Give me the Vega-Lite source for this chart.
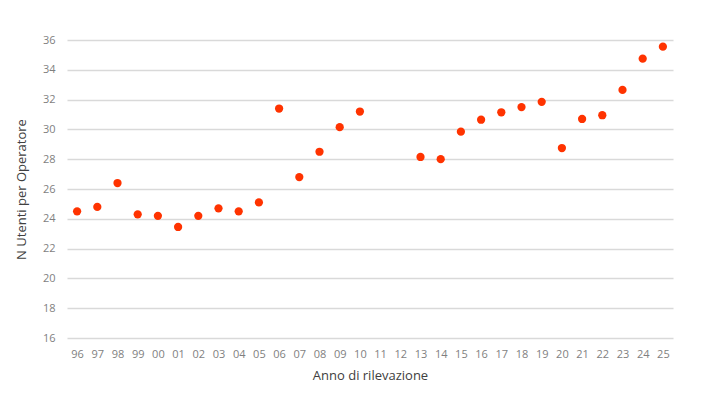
{
  "$schema": "https://vega.github.io/schema/vega-lite/v6.json",
  "autosize": "none",
  "padding": {"left": 67, "top": 40, "right": 33, "bottom": 67},
  "width": 606,
  "height": 298,
  "background": "white",
  "config": {
    "view": {"stroke": "transparent"},
    "font": "Open Sans"
  },
  "data": {
    "values": [
      {"anno": "96", "utenti": 24.5},
      {"anno": "97", "utenti": 24.8},
      {"anno": "98", "utenti": 26.4},
      {"anno": "99", "utenti": 24.3},
      {"anno": "00", "utenti": 24.2},
      {"anno": "01", "utenti": 23.45},
      {"anno": "02", "utenti": 24.2},
      {"anno": "03", "utenti": 24.7},
      {"anno": "04", "utenti": 24.5},
      {"anno": "05", "utenti": 25.1},
      {"anno": "06", "utenti": 31.4},
      {"anno": "07", "utenti": 26.8},
      {"anno": "08", "utenti": 28.5},
      {"anno": "09", "utenti": 30.15},
      {"anno": "10", "utenti": 31.2},
      {"anno": "13", "utenti": 28.15},
      {"anno": "14", "utenti": 28.0},
      {"anno": "15", "utenti": 29.85},
      {"anno": "16", "utenti": 30.65},
      {"anno": "17", "utenti": 31.15},
      {"anno": "18", "utenti": 31.5},
      {"anno": "19", "utenti": 31.85},
      {"anno": "20", "utenti": 28.75},
      {"anno": "21", "utenti": 30.7},
      {"anno": "22", "utenti": 30.95},
      {"anno": "23", "utenti": 32.65},
      {"anno": "24", "utenti": 34.75},
      {"anno": "25", "utenti": 35.55}
    ]
  },
  "mark": {"type": "point", "filled": true, "opacity": 1, "size": 68, "color": "#ff3300"},
  "encoding": {
    "x": {
      "field": "anno",
      "type": "ordinal",
      "scale": {
        "domain": ["96", "97", "98", "99", "00", "01", "02", "03", "04", "05", "06", "07", "08", "09", "10", "11", "12", "13", "14", "15", "16", "17", "18", "19", "20", "21", "22", "23", "24", "25"],
        "paddingInner": 0,
        "paddingOuter": 0
      },
      "title": "Anno di rilevazione",
      "axis": {
        "labelAngle": 0,
        "domain": false,
        "ticks": false,
        "labelPadding": 10,
        "labelFontSize": 11,
        "labelColor": "#7f7f7f",
        "titleFontSize": 13,
        "titleFontWeight": "normal",
        "titleColor": "#404040",
        "titlePadding": 10
      }
    },
    "y": {
      "field": "utenti",
      "type": "quantitative",
      "scale": {"domain": [16, 36], "nice": false, "zero": false},
      "title": "N Utenti per Operatore",
      "axis": {
        "values": [16, 18, 20, 22, 24, 26, 28, 30, 32, 34, 36],
        "domain": false,
        "ticks": false,
        "grid": true,
        "gridColor": "#d9d9d9",
        "gridWidth": 1.3,
        "labelPadding": 12,
        "labelFontSize": 11,
        "labelColor": "#7f7f7f",
        "titleFontSize": 13,
        "titleFontWeight": "normal",
        "titleColor": "#404040",
        "titlePadding": 14
      }
    }
  }
}
